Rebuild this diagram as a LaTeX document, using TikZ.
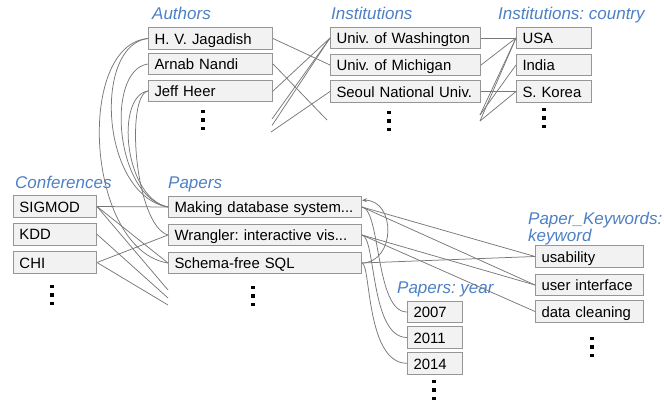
\documentclass[tikz,border=0pt]{standalone}
\usepackage{fontspec}
\setmainfont{Liberation Sans}
\frenchspacing
\definecolor{LabelColor}{RGB}{77,128,196}
\definecolor{CellFill}{RGB}{242,242,242}
\definecolor{CellBorder}{RGB}{150,150,150}
\definecolor{LinkColor}{RGB}{120,120,120}
\usetikzlibrary{arrows.meta}
\tikzset{
  cell/.style={rectangle, draw=CellBorder, fill=CellFill, line width=1pt,
    inner xsep=6pt, inner ysep=0pt, minimum height=21.7pt,
    text height=11.4pt, text depth=0pt, text width=#1, align=left,
    anchor=west, font=\fontsize{14.9}{17}\selectfont},
  header/.style={anchor=base west, inner sep=0pt, text=LabelColor,
    font=\fontsize{17}{20}\selectfont\itshape},
  link/.style={draw=LinkColor, line width=0.75pt},
  cite/.style={link, -{Stealth[length=5pt,width=4pt]}}
}
\newcommand{\moreRows}[1]{%
  \begin{scope}[shift={#1}]
    \foreach \k in {-8.3,0,8.3}
      \fill (-1.65,\k-1.65) rectangle (1.65,\k+1.65);
  \end{scope}
}
\begin{document}
\begin{tikzpicture}[x=1pt,y=-1pt]
  \useasboundingbox (0,0) rectangle (664,403);

  % Column headers
  \node[header] (hAuthors) at (152,20) {Authors};
  \node[header] (hInst) at (331,20) {Institutions};
  \node[header] (hCountry) at (498,20) {Institutions: country};
  \node[header] (hConf) at (15,189) {Conferences};
  \node[header] (hPapers) at (168,189) {Papers};
  \node[header] (hKeyword) at (528,225) {Paper\_Keywords:};
  \node[header] (hKeyword2) at (528,241.7) {keyword};
  \node[header] (hYear) at (397,294) {Papers: year};

  % Authors
  \node[cell=112pt] (jagadish) at (148,38.5) {H. V. Jagadish};
  \node[cell=112pt] (nandi) at (148,64) {Arnab Nandi};
  \node[cell=112pt] (heer) at (148,91) {Jeff Heer};
  \moreRows{(203,120)}

  % Institutions
  \node[cell=138pt] (uw) at (330,38) {Univ. of Washington};
  \node[cell=138pt] (umich) at (330,65) {Univ. of Michigan};
  \node[cell=138pt] (snu) at (330,91.5) {Seoul National Univ.};
  \moreRows{(389,121)}

  % Countries
  \node[cell=63pt] (usa) at (516,38) {USA};
  \node[cell=63pt] (india) at (516,65) {India};
  \node[cell=63pt] (korea) at (516,91.5) {S. Korea};
  \moreRows{(544,118)}

  % Conferences
  \node[cell=71pt] (sigmod) at (13,206.5) {SIGMOD};
  \node[cell=71pt] (kdd) at (13,234.3) {KDD};
  \node[cell=71pt] (chi) at (13,262.5) {CHI};
  \moreRows{(52,295)}

  % Papers
  \node[cell=181pt] (making) at (168,207) {Making database system...};
  \node[cell=181pt] (wrangler) at (168,235) {Wrangler: interactive vis...};
  \node[cell=181pt] (schema) at (168,263) {Schema-free SQL};
  \moreRows{(253,296)}

  % Years
  \node[cell=43pt] (y2007) at (407,312) {2007};
  \node[cell=43pt] (y2011) at (407,337.5) {2011};
  \node[cell=43pt] (y2014) at (407,363.3) {2014};
  \moreRows{(434,390)}

  % Keywords
  \node[cell=96pt] (usability) at (535,256.5) {usability};
  \node[cell=96pt] (ui) at (535,285) {user interface};
  \node[cell=96pt] (cleaning) at (535,311.5) {data cleaning};
  \moreRows{(592,347)}

  % Authors -- Institutions
  \coordinate (auA) at (272,119);
  \coordinate (auB) at (272,125.5);
  \coordinate (auC) at (271,132);
  \coordinate (auD) at (327,120);
  \draw[link] (jagadish.east) -- (umich.west);
  \draw[link] (nandi.east) -- (auD);
  \draw[link] (heer.east) -- (uw.west);
  \draw[link] (auA) -- (uw.west);
  \draw[link] (auB) -- (uw.west);
  \draw[link] (auC) -- (snu.west);

  % Institutions -- countries
  \coordinate (inA) at (480,115);
  \coordinate (inB) at (480,121);
  \draw[link] (uw.east) -- (usa.west);
  \draw[link] (umich.east) -- (usa.west);
  \draw[link] (snu.east) -- (korea.west);
  \draw[link] (inA) -- (usa.west);
  \draw[link] (inA) -- (india.west);
  \draw[link] (inB) -- (usa.west);
  \draw[link] (inB) -- (korea.west);

  % Authors -- Papers
  \draw[link] (jagadish.west) .. controls +(-73,6) and +(-82,-13) .. (schema.west);
  \draw[link] (jagadish.west) .. controls +(-55,6) and +(-68,-12) .. (making.west);
  \draw[link] (nandi.west) .. controls +(-43,6) and +(-53,-10) .. (making.west);
  \draw[link] (heer.west) .. controls +(-33,5) and +(-44,-9) .. (making.west);
  \draw[link] (heer.west) .. controls +(-23,5) and +(-33,-10) .. (wrangler.west);

  % Conferences -- Papers
  \coordinate (cpA) at (168,290);
  \coordinate (cpB) at (168,298);
  \coordinate (cpC) at (168,305);
  \draw[link] (sigmod.east) -- (making.west);
  \draw[link] (sigmod.east) -- (schema.west);
  \draw[link] (sigmod.east) -- (cpA);
  \draw[link] (kdd.east) -- (cpB);
  \draw[link] (chi.east) -- (wrangler.west);
  \draw[link] (chi.east) -- (cpC);

  % Papers -- Keywords
  \draw[link] (making.east) -- (usability.west);
  \draw[link] (making.east) -- (ui.west);
  \draw[link] (wrangler.east) -- (ui.west);
  \draw[link] (wrangler.east) -- (cleaning.west);
  \draw[link] (schema.east) -- (usability.west);

  % Papers -- Years
  \draw[link] (making.east) .. controls +(19,3) and +(-32,0) .. (y2007.west);
  \draw[link] (wrangler.east) .. controls +(14,2) and +(-37,0) .. (y2011.west);
  \draw[link] (schema.east) .. controls +(9,2) and +(-41,0) .. (y2014.west);

  % Citation
  \draw[cite] (schema.east) .. controls +(34,-1) and +(34,0) .. (making.4);
\end{tikzpicture}
\end{document}
